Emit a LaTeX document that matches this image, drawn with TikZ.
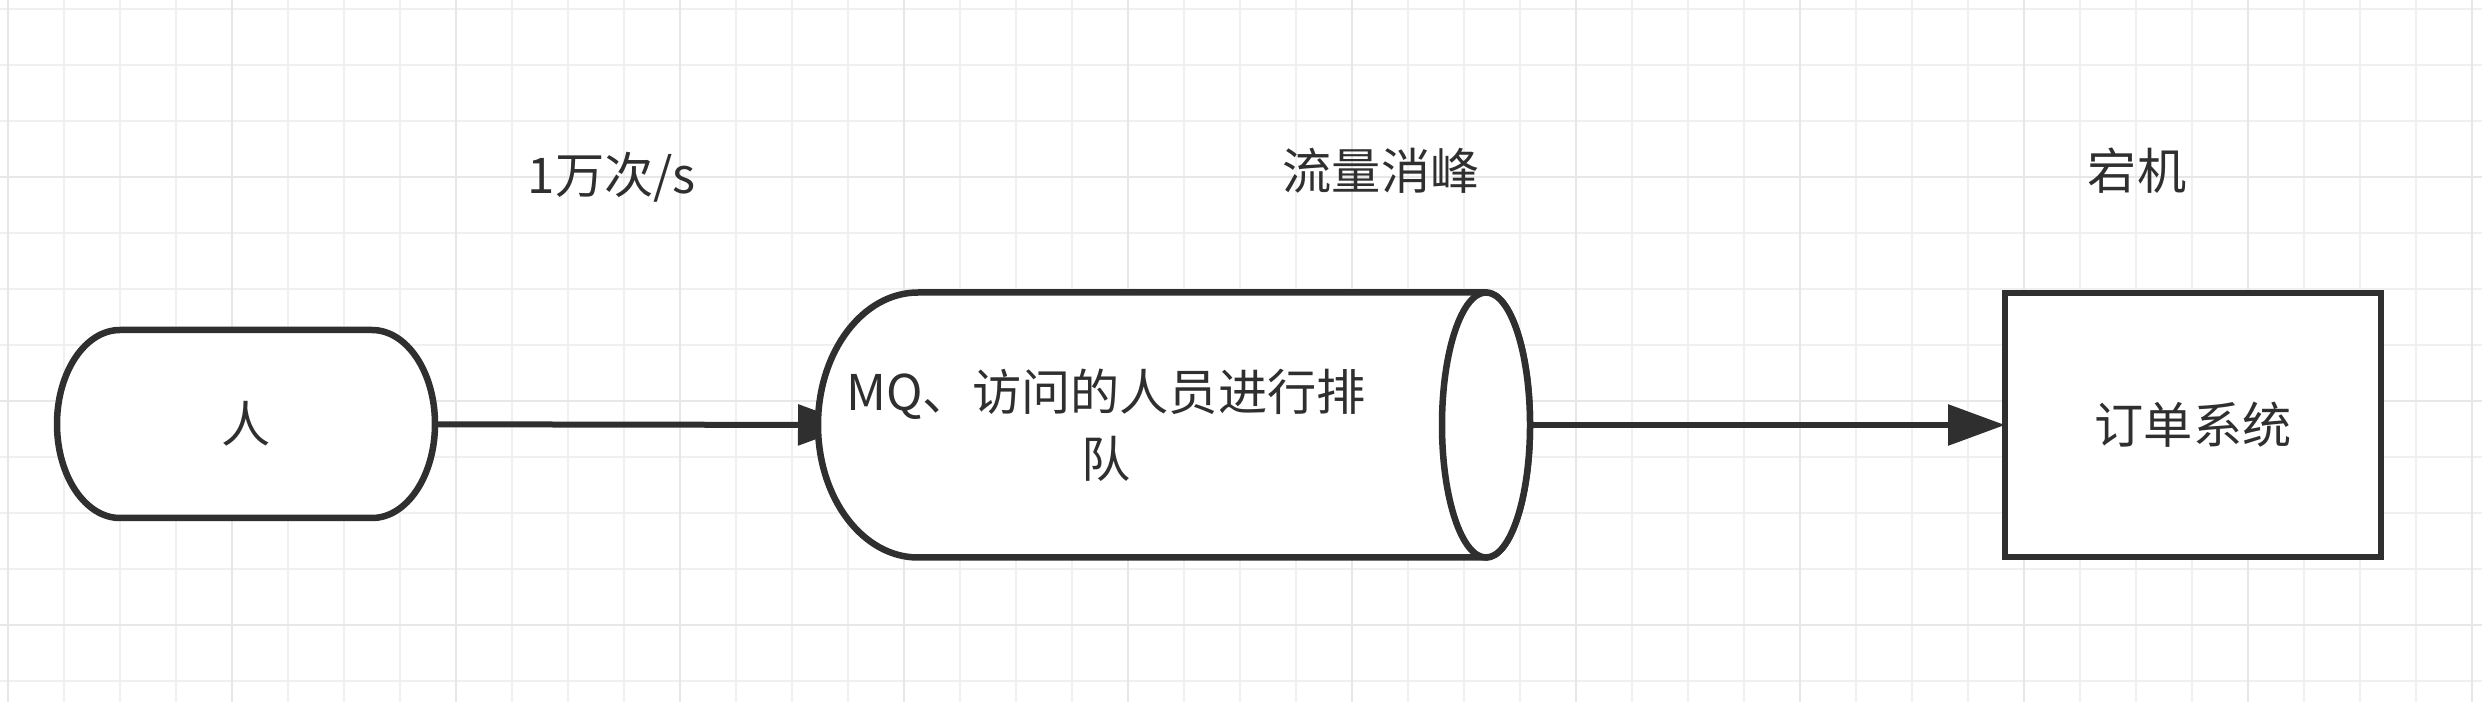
\documentclass[tikz,border=0pt]{standalone}
\usepackage{fontspec}
\setmainfont{Noto Sans CJK SC}
\usetikzlibrary{arrows.meta}
\pgfdeclarelayer{grid}
\pgfdeclarelayer{edges}
\pgfdeclarelayer{shapes}
\pgfsetlayers{grid,edges,shapes,main}
\definecolor{ink}{HTML}{2F2F2F}
\definecolor{gridminor}{HTML}{F0F0F0}
\definecolor{gridmajor}{HTML}{E7E7E7}
\tikzset{
  txt/.style={text=ink,font=\fontsize{14pt}{19pt}\selectfont},
  outline/.style={draw=ink,line width=0.065cm,fill=white},
  termbox/.style={txt,minimum width=3.78cm,minimum height=1.88cm,outer sep=0pt},
  cylbox/.style={minimum width=7.12cm,minimum height=2.65cm,outer sep=0pt},
  sysbox/.style={txt,outline,minimum width=3.76cm,minimum height=2.64cm,outer sep=0pt},
  mqtext/.style={txt,align=center,xshift=-0.68cm},
  flow/.style={draw=ink,line width=0.06cm,-{Triangle[length=0.57cm 0,width=0.40cm 0]}},
  gridline/.style={gridminor,line width=0.02cm},
  majorline/.style={gridmajor,line width=0.02cm}
}
\begin{document}
\begin{tikzpicture}[x=1cm,y=-1cm]
  \useasboundingbox (0,0) rectangle (24.82,7.02);
  \begin{pgfonlayer}{grid}
    \fill[white] (0,0) rectangle (24.82,7.02);
    \foreach \i in {0,...,44}
      \draw[gridline] (0.08+0.56*\i,0) -- ++(0,7.02);
    \foreach \j in {0,...,12}
      \draw[gridline] (0,0.09+0.56*\j) -- ++(24.82,0);
    \foreach \i in {0,4,...,44}
      \draw[majorline] (0.08+0.56*\i,0) -- ++(0,7.02);
    \foreach \j in {3,7,11}
      \draw[majorline] (0,0.09+0.56*\j) -- ++(24.82,0);
  \end{pgfonlayer}

  \node[termbox] (person) at (2.46,4.24) {人};
  \node[cylbox,label={[mqtext]center:{MQ、访问的人员进行排\\队}}] (mq) at (11.74,4.25) {};
  \node[sysbox] (order) at (21.93,4.25) {订单系统};

  \node[txt] (rate) at (6.12,1.77) {1万次/s};
  \node[txt] (peak) at (13.81,1.71) {流量消峰};
  \node[txt] (down) at (21.37,1.71) {宕机};

  \begin{pgfonlayer}{shapes}
    \draw[outline] ([xshift=0.63cm]person.north west) -- ([xshift=-0.63cm]person.north east)
      arc[start angle=90,end angle=-90,x radius=0.63cm,y radius=0.94cm]
      -- ([xshift=0.63cm]person.south west)
      arc[start angle=270,end angle=90,x radius=0.63cm,y radius=0.94cm] -- cycle;
    \draw[outline] ([xshift=1cm]mq.north west) -- ([xshift=-0.44cm]mq.north east)
      arc[start angle=90,end angle=-90,x radius=0.44cm,y radius=1.325cm]
      -- ([xshift=1cm]mq.south west)
      arc[start angle=270,end angle=90,x radius=1cm,y radius=1.325cm] -- cycle;
    \draw[outline] ([xshift=-0.44cm]mq.east) ellipse[x radius=0.44cm,y radius=1.325cm];
  \end{pgfonlayer}

  \begin{pgfonlayer}{edges}
    \draw[flow] (person) -- ([xshift=0.37cm]mq.west);
    \draw[flow] (mq) -- (order);
  \end{pgfonlayer}
\end{tikzpicture}
\end{document}
